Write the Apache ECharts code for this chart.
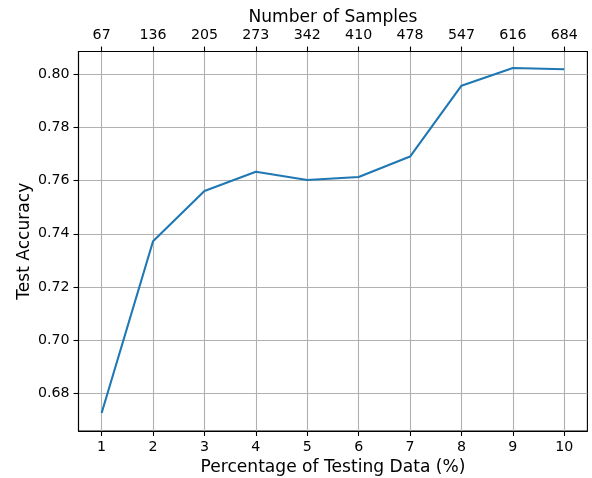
<!DOCTYPE html>
<html>
<head>
<meta charset="utf-8">
<script src="https://cdn.jsdelivr.net/npm/echarts@6/dist/echarts.min.js"></script>
<style>
  html, body { margin: 0; padding: 0; background: #fff; }
  #chart { width: 592px; height: 478px; }
</style>
</head>
<body>
<div id="chart"></div>
<script>
// Percentage of data held out for testing, and the matching sample counts
const percentages = [1, 2, 3, 4, 5, 6, 7, 8, 9, 10];
const sampleCounts = [67, 136, 205, 273, 342, 410, 478, 547, 616, 684];
// Test accuracy obtained at each split
const accuracy = [0.6725, 0.7372, 0.7561, 0.7634, 0.7603, 0.7614, 0.7691, 0.7958, 0.8025, 0.8020];
// Y axis tick positions
const yTicks = [0.68, 0.70, 0.72, 0.74, 0.76, 0.78, 0.80];

const FONT = 'DejaVu Sans';
const GRID_COLOR = '#b0b0b0';
const TICK_SIZE = 14.2;
const NAME_SIZE = 17.1;

const chart = echarts.init(document.getElementById('chart'), null, { renderer: 'canvas' });

const spine = { show: true, onZero: false, lineStyle: { color: '#000', width: 1.1 } };
const tick = (vals) => ({ show: true, inside: false, length: 5, customValues: vals, lineStyle: { color: '#000', width: 1.1 } });
const grid = { show: true, lineStyle: { color: GRID_COLOR, width: 1.1 } };

chart.setOption({
  animation: false,
  backgroundColor: '#fff',
  grid: {
    left: 78.5, right: 4.6, top: 51.5, bottom: 47,
    containLabel: false,
    outerBoundsMode: 'none',
    show: true, borderColor: '#000', borderWidth: 1.1
  },
  xAxis: [
    {
      type: 'value', position: 'bottom', min: 0.55, max: 10.45,
      name: 'Percentage of Testing Data (%)', nameLocation: 'middle', nameGap: 28,
      nameMoveOverlap: false,
      nameTextStyle: { fontFamily: FONT, fontSize: NAME_SIZE, color: '#000' },
      axisLine: spine,
      axisTick: tick(percentages),
      axisLabel: { customValues: percentages, margin: 9, fontFamily: FONT, fontSize: TICK_SIZE, color: '#000' },
      splitLine: grid
    },
    {
      type: 'value', position: 'top', min: 0.55, max: 10.45,
      name: 'Number of Samples', nameLocation: 'middle', nameGap: 25,
      nameMoveOverlap: false,
      nameTextStyle: { fontFamily: FONT, fontSize: NAME_SIZE, color: '#000' },
      axisLine: spine,
      axisTick: tick(percentages),
      axisLabel: {
        customValues: percentages, margin: 9, fontFamily: FONT, fontSize: TICK_SIZE, color: '#000',
        formatter: (v) => String(sampleCounts[percentages.indexOf(Math.round(v))])
      },
      splitLine: { show: false }
    }
  ],
  yAxis: {
    type: 'value', min: 0.6657, max: 0.8087,
    name: 'Test Accuracy', nameLocation: 'middle', nameGap: 45, nameRotate: 90,
    nameMoveOverlap: false,
    nameTextStyle: { fontFamily: FONT, fontSize: NAME_SIZE, color: '#000' },
    axisLine: spine,
    axisTick: tick(yTicks),
    axisLabel: { customValues: yTicks, margin: 9, fontFamily: FONT, fontSize: TICK_SIZE, color: '#000',
      formatter: (v) => v.toFixed(2) },
    splitLine: grid
  },
  series: [{
    type: 'line',
    xAxisIndex: 0,
    data: percentages.map((p, i) => [p, accuracy[i]]),
    showSymbol: false,
    lineStyle: { color: '#1f77b4', width: 2.1 },
    itemStyle: { color: '#1f77b4' }
  }]
});
</script>
</body>
</html>
